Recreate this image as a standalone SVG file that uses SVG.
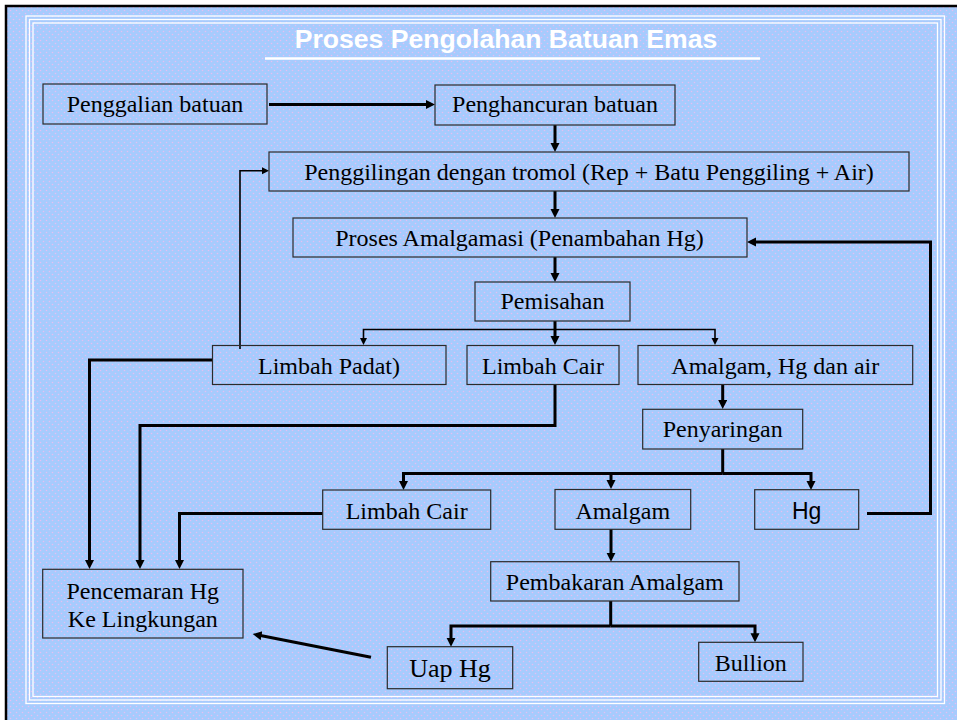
<svg xmlns="http://www.w3.org/2000/svg" width="957" height="720" viewBox="0 0 957 720">
<style>
.box{fill:none;stroke:#2b2b2b;stroke-width:1.2}
.t{font-family:"Liberation Serif","Times New Roman",serif;font-size:24px;fill:#000;text-anchor:middle}
.ts{font-family:"Liberation Sans",Arial,sans-serif;font-size:23px;fill:#000;text-anchor:middle}
.c{fill:none;stroke:#000;stroke-width:3;stroke-linejoin:miter}
.cn{fill:none;stroke:#000;stroke-width:1.6;stroke-linejoin:miter}
.fr{fill:none;stroke:#fff;stroke-width:1.3}
</style>
<defs>
<pattern id="dots" width="6" height="6" patternUnits="userSpaceOnUse">
<rect width="6" height="6" fill="#a6cbfd"/>
<circle cx="1.5" cy="1.5" r="0.8" fill="#e4bff2"/>
<circle cx="4.5" cy="4.5" r="0.8" fill="#e4bff2"/>
</pattern>
<marker id="a" markerUnits="userSpaceOnUse" markerWidth="10" markerHeight="10" refX="5" refY="4.5" orient="auto">
<path d="M0,0 L9,4.5 L0,9 z" fill="#000"/>
</marker>
<marker id="s" markerUnits="userSpaceOnUse" markerWidth="8" markerHeight="8" refX="4" refY="3.5" orient="auto">
<path d="M0,0 L7,3.5 L0,7 z" fill="#000"/>
</marker>
</defs>
<rect x="0" y="0" width="957" height="720" fill="#fff"/>
<rect x="6" y="6" width="951" height="714" fill="url(#dots)"/>
<path d="M6,720 V6 H957" fill="none" stroke="#000" stroke-width="2.5"/>
<g id="frame">
<rect class="fr" x="26" y="16" width="918.5" height="687.5"/>
<rect class="fr" x="29.5" y="19.5" width="911.5" height="680.5"/>
<rect class="fr" x="33" y="23" width="904.5" height="673.5"/>
</g>
<g id="title">
<text x="506" y="48" font-family="'Liberation Sans',Arial,sans-serif" font-size="26.6" font-weight="bold" fill="#fff" text-anchor="middle">Proses Pengolahan Batuan Emas</text>
<line x1="265" y1="58.5" x2="760" y2="58.5" stroke="#fff" stroke-width="2.5"/>
</g>
<g id="connectors">
<path class="c" d="M269,104.5 H431" marker-end="url(#a)"/>
<path class="c" d="M555,125 V148" marker-end="url(#a)"/>
<path class="c" d="M555,191 V214" marker-end="url(#a)"/>
<path class="c" d="M555,257 V278" marker-end="url(#a)"/>
<path class="c" d="M555,321 V341" marker-end="url(#a)"/>
<path class="cn" d="M555,329.5 H363.5 V342" marker-end="url(#s)"/>
<path class="cn" d="M555,329.5 H715 V342" marker-end="url(#s)"/>
<path class="cn" d="M240,349 V170.7 H266" marker-end="url(#s)" stroke-width="2"/>
<path class="c" d="M212,360 H89.5 V565" marker-end="url(#a)"/>
<path class="c" d="M555,384 V425.5 H140 V565" marker-end="url(#a)"/>
<path class="c" d="M722.7,384 V405" marker-end="url(#a)"/>
<path class="c" d="M722.7,449 V473.5"/>
<path class="c" d="M722.7,473.5 H403.5 V486" marker-end="url(#a)"/>
<path class="c" d="M722.7,473.5 H811 V486" marker-end="url(#a)"/>
<path class="c" d="M611,473.5 V485" marker-end="url(#a)"/>
<path class="c" d="M322.7,513.5 H179.5 V565" marker-end="url(#a)"/>
<path class="c" d="M867,513.5 H930.5 V242 H751" marker-end="url(#a)"/>
<path class="c" d="M611,529 V557.7" marker-end="url(#a)"/>
<path class="c" d="M610.7,601 V626"/>
<path class="c" d="M610.7,626 H451 V642.7" marker-end="url(#a)"/>
<path class="c" d="M610.7,626 H755 V638.3" marker-end="url(#a)"/>
<path class="c" d="M371,657.3 L256.6,634.8" marker-end="url(#a)"/>
</g>
<g id="penggalian"><rect class="box" x="43" y="84" width="224" height="40"/><text class="t" x="155" y="112">Penggalian batuan</text></g>
<g id="penghancuran"><rect class="box" x="435" y="85" width="240" height="40"/><text class="t" x="555" y="112">Penghancuran batuan</text></g>
<g id="penggilingan"><rect class="box" x="269" y="152" width="640" height="39"/><text class="t" x="589" y="180">Penggilingan dengan tromol (Rep + Batu Penggiling + Air)</text></g>
<g id="amalgamasi"><rect class="box" x="293" y="218" width="454" height="39"/><text class="t" x="519.5" y="246">Proses Amalgamasi (Penambahan Hg)</text></g>
<g id="pemisahan"><rect class="box" x="475" y="282" width="155" height="39"/><text class="t" x="552.5" y="309">Pemisahan</text></g>
<g id="limbah-padat"><rect class="box" x="212.5" y="345.5" width="233.5" height="39"/><text class="t" x="329" y="374">Limbah Padat)</text></g>
<g id="limbah-cair-1"><rect class="box" x="467" y="345.5" width="152" height="39"/><text class="t" x="543" y="374">Limbah Cair</text></g>
<g id="amalgam-hg-air"><rect class="box" x="638" y="345.5" width="274.7" height="39"/><text class="t" x="775.3" y="374">Amalgam, Hg dan air</text></g>
<g id="penyaringan"><rect class="box" x="642.7" y="409.3" width="160" height="39.7"/><text class="t" x="722.7" y="437">Penyaringan</text></g>
<g id="limbah-cair-2"><rect class="box" x="322.7" y="490" width="168" height="39.3"/><text class="t" x="406.7" y="519">Limbah Cair</text></g>
<g id="amalgam"><rect class="box" x="555" y="489.5" width="135.7" height="39.8"/><text class="t" x="622.8" y="519">Amalgam</text></g>
<g id="hg"><rect class="box" x="754.7" y="489.7" width="104" height="39.6"/><text class="ts" x="806.7" y="518.5">Hg</text></g>
<g id="pembakaran"><rect class="box" x="490.7" y="561.7" width="248.3" height="39.3"/><text class="t" x="614.8" y="590">Pembakaran Amalgam</text></g>
<g id="pencemaran"><rect class="box" x="42.7" y="569.3" width="200.3" height="68.7"/><text class="t" x="142.8" y="599.3">Pencemaran Hg</text><text class="t" x="142.8" y="627.3">Ke Lingkungan</text></g>
<g id="uap-hg"><rect class="box" x="387.3" y="646.7" width="125.4" height="42"/><text class="t" x="450" y="676.7" style="font-size:26px">Uap Hg</text></g>
<g id="bullion"><rect class="box" x="698.7" y="642.3" width="104.3" height="39"/><text class="t" x="750.8" y="671">Bullion</text></g>
</svg>
